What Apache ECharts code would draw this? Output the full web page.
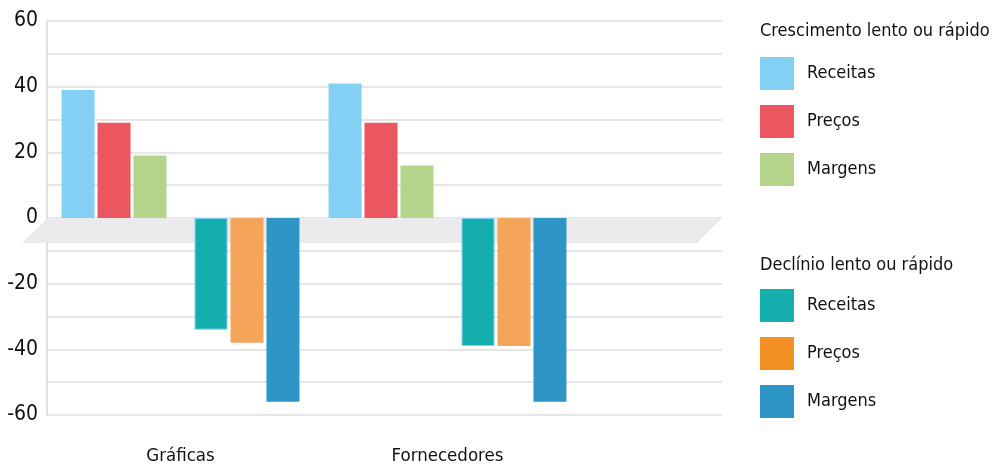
<!DOCTYPE html>
<html>
<head>
<meta charset="utf-8">
<style>
  html, body { margin: 0; padding: 0; background: #ffffff; }
  #chart { width: 997px; height: 466px; }
</style>
<script src="https://cdn.jsdelivr.net/npm/echarts@6/dist/echarts.min.js"></script>
</head>
<body>
<div id="chart"></div>
<script>
// Categories and values (% of respondents)
const categories = ['Gráficas', 'Fornecedores'];

const growthTitle = 'Crescimento lento ou rápido';
const declineTitle = 'Declínio lento ou rápido';
const measures = ['Receitas', 'Preços', 'Margens'];

const growthReceitas = [39, 41];
const growthPrecos = [29, 29];
const growthMargens = [19, 16];

const declineReceitas = [-34, -39];
const declinePrecos = [-38, -39];
const declineMargens = [-56, -56];

const yTicks = [-60, -40, -20, 0, 20, 40, 60];

const FONT = '"DejaVu Sans Condensed", "Liberation Sans Narrow", sans-serif';

const growthColors = ['#84d0f5', '#eb5661', '#b5d48b'];
const declineColors = ['#14afac', '#f5a55a', '#2d96c7'];
const declineLegendColors = ['#14afac', '#f29024', '#2d96c7'];

const growthData = [growthReceitas, growthPrecos, growthMargens];
const declineData = [declineReceitas, declinePrecos, declineMargens];

const SEP = ' · ';
const growthNames = measures.map(m => 'Crescimento' + SEP + m);
const declineNames = measures.map(m => 'Declínio' + SEP + m);

function barSeries(name, data, style) {
  return {
    name: name,
    type: 'bar',
    xAxisIndex: 1,
    yAxisIndex: 1,
    data: data,
    barWidth: 33,
    barGap: '9%',
    itemStyle: style,
    emphasis: { disabled: true },
    z: 3
  };
}

const series = [];
growthData.forEach((d, i) => series.push(barSeries(growthNames[i], d, { color: growthColors[i] })));
// narrow empty slot separating the growth and decline bars in each group
series.push({
  name: 'gap', type: 'bar', xAxisIndex: 1, yAxisIndex: 1,
  data: [], barWidth: 23, barGap: '9%', silent: true
});
declineData.forEach((d, i) => series.push(barSeries(declineNames[i], d,
  i === 0
    ? { color: declineColors[i], borderColor: '#84d0f5', borderWidth: 1 }
    : { color: declineColors[i] })));

const legendCommon = {
  orient: 'vertical',
  left: 760,
  itemWidth: 34,
  itemHeight: 33,
  itemGap: 15,
  padding: 0,
  selectedMode: false,
  icon: 'rect',
  formatter: name => name.split(SEP)[1],
  textStyle: { fontFamily: FONT, fontSize: 18, color: '#111111', padding: [0, 0, 0, 8] }
};

const chart = echarts.init(document.getElementById('chart'), null, { renderer: 'canvas' });

const yCommon = {
  type: 'value',
  min: -60,
  max: 60,
  interval: 10
};

const titleStyle = { fontFamily: FONT, fontSize: 18, fontWeight: 'normal', color: '#111111' };

chart.setOption({
  animation: false,
  backgroundColor: '#ffffff',
  title: [
    { text: growthTitle, left: 760, top: 22, padding: 0, textStyle: titleStyle },
    { text: declineTitle, left: 760, top: 256, padding: 0, textStyle: titleStyle }
  ],
  legend: [
    Object.assign({}, legendCommon, {
      top: 57,
      data: growthNames.map(n => ({ name: n }))
    }),
    Object.assign({}, legendCommon, {
      top: 289,
      data: declineNames.map((n, i) => ({
        name: n,
        itemStyle: { color: declineLegendColors[i], borderWidth: 0 }
      }))
    })
  ],
  grid: [
    { left: 47, right: 275, top: 21, bottom: 51 },
    { left: 47, width: 534, top: 21, bottom: 51 }
  ],
  xAxis: [
    { gridIndex: 0, type: 'value', min: 0, max: 1, show: false },
    {
      gridIndex: 1,
      type: 'category',
      data: categories,
      axisLine: { show: false },
      axisTick: { show: false },
      axisLabel: { margin: 32, fontFamily: FONT, fontSize: 18.5, color: '#111111' }
    }
  ],
  yAxis: [
    Object.assign({}, yCommon, {
      gridIndex: 0,
      axisLine: { show: true, lineStyle: { color: '#d6d6d6', width: 1.5 } },
      axisTick: { show: false },
      splitLine: { show: true, lineStyle: { color: '#dedede', width: 1.5 } },
      axisLabel: {
        margin: 9,
        fontFamily: FONT,
        fontSize: 21,
        color: '#111111',
        formatter: v => (yTicks.indexOf(v) >= 0 ? String(v) : '')
      }
    }),
    Object.assign({}, yCommon, { gridIndex: 1, show: false, splitLine: { show: false } })
  ],
  series: series
});

// Shaded slanted band along the zero line
const leftZero = chart.convertToPixel({ gridIndex: 0 }, [0, 0]);
const rightZero = chart.convertToPixel({ gridIndex: 0 }, [1, 0]);
const depth = 25;
chart.setOption({
  graphic: [{
    type: 'polygon',
    z: 1,
    silent: true,
    shape: {
      points: [
        [leftZero[0] + 1, leftZero[1]],
        [rightZero[0], rightZero[1]],
        [rightZero[0] - depth, rightZero[1] + depth],
        [leftZero[0] - depth, leftZero[1] + depth]
      ]
    },
    style: { fill: '#ebebed' }
  }]
});
</script>
</body>
</html>
